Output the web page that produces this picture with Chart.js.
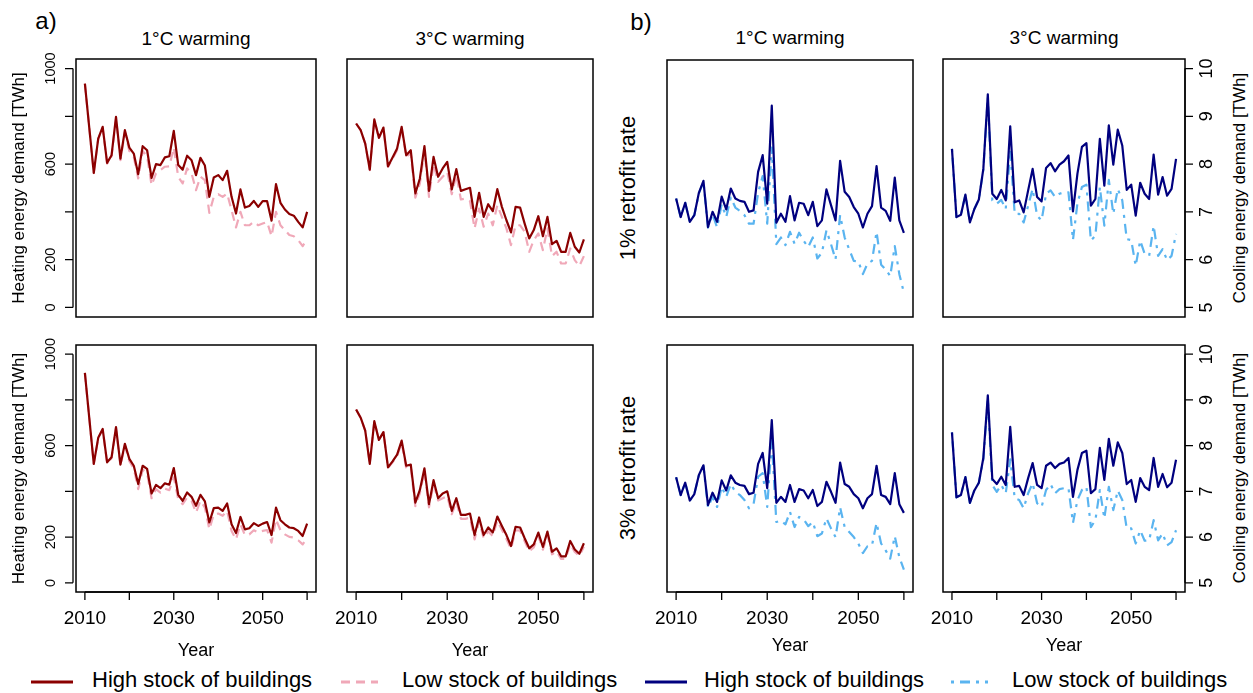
<!DOCTYPE html>
<html>
<head>
<meta charset="utf-8">
<script src="https://cdn.jsdelivr.net/npm/chart.js@4.4.1/dist/chart.umd.min.js"></script>
<style>
  body { margin: 0; background: #fff; }
  #page { position: relative; width: 1253px; height: 693px; overflow: hidden; background: #fff;
          font-family: "Liberation Sans", Arial, Helvetica, sans-serif; color: #000; }
  #page canvas { position: absolute; }
  .lbl { position: absolute; white-space: nowrap; transform: translate(-50%, -50%); line-height: 1; }
  .rot { transform: translate(-50%, -50%) rotate(-90deg); }
  .leg { position: absolute; white-space: nowrap; font-size: 22px; line-height: 1; transform: translateY(-50%); }
  svg.key { position: absolute; overflow: visible; }
</style>
</head>
<body>
<div id="page">
  <div class="lbl" style="left:46px;top:21px;font-size:24px">a)</div>
  <div class="lbl" style="left:641px;top:22px;font-size:24px">b)</div>

  <div class="lbl" style="left:196px;top:38px;font-size:19px">1°C warming</div>
  <div class="lbl" style="left:470px;top:38px;font-size:19px">3°C warming</div>
  <div class="lbl" style="left:790px;top:37px;font-size:19px">1°C warming</div>
  <div class="lbl" style="left:1064px;top:37px;font-size:19px">3°C warming</div>

  <div class="lbl rot" style="left:628px;top:188px;font-size:22px">1% retrofit rate</div>
  <div class="lbl rot" style="left:628px;top:468px;font-size:22px">3% retrofit rate</div>

  <div class="lbl rot" style="left:1239px;top:188px;font-size:17px">Cooling energy demand [TWh]</div>
  <div class="lbl rot" style="left:1239px;top:468px;font-size:17px">Cooling energy demand [TWh]</div>

  <!-- leyenda -->
  <svg class="key" style="left:0;top:0" width="1253" height="693">
    <line x1="31" y1="682" x2="73" y2="682" stroke="#8B0000" stroke-width="3"/>
    <line x1="341" y1="682" x2="378" y2="682" stroke="#F0A8B8" stroke-width="3" stroke-dasharray="9,6"/>
    <line x1="645" y1="682" x2="687" y2="682" stroke="#00007F" stroke-width="3"/>
    <line x1="951" y1="682" x2="988" y2="682" stroke="#5AB4F0" stroke-width="3" stroke-dasharray="3,6,10,6"/>
  </svg>
  <div class="leg" style="left:92px;top:680px">High stock of buildings</div>
  <div class="leg" style="left:402px;top:680px">Low stock of buildings</div>
  <div class="leg" style="left:704px;top:680px">High stock of buildings</div>
  <div class="leg" style="left:1012px;top:680px">Low stock of buildings</div>
</div>

<script>
// DATOS
var years = [];
for (var y = 2010; y <= 2060; y++) years.push(y);

var yearTicks = [2010, 2020, 2030, 2040, 2050, 2060];
var yearLabelled = [2010, 2030, 2050];
var heatTicks = [0, 200, 400, 600, 800, 1000];
var heatLabelled = [0, 200, 600, 1000];
var coolTicks = [5, 6, 7, 8, 9, 10];

// calefaccion, 1°C, 1% renovacion
var heatW1R1High = [937, 750, 563, 707, 756, 605, 637, 798, 623, 742,
  669, 644, 558, 675, 658, 542, 600, 596, 628, 633,
  739, 596, 577, 635, 616, 554, 626, 594, 463, 544,
  554, 533, 572, 463, 393, 494, 418, 425, 446, 421,
  445, 445, 363, 516, 438, 410, 391, 384, 358, 335, 400];
var heatW1R1Low = [937, 750, 562, 705, 752, 602, 633, 790, 617, 733,
  655, 630, 540, 655, 632, 512, 561, 575, 589, 591,
  669, 547, 519, 582, 561, 491, 547, 533, 396, 463,
  474, 463, 477, 407, 335, 400, 344, 344, 358, 344,
  351, 358, 298, 400, 344, 324, 303, 298, 282, 257, 285];
// calefaccion, 3°C, 1% renovacion
var heatW3R1High = [770, 742, 686, 577, 787, 710, 753, 591, 628, 665,
  756, 637, 658, 477, 540, 675, 488, 630, 547, 582,
  609, 494, 579, 488, 495, 501, 379, 480, 379, 432,
  403, 495, 421, 365, 314, 421, 418, 351, 289, 324,
  382, 298, 379, 265, 279, 233, 233, 312, 254, 230, 285];
var heatW3R1Low = [770, 742, 686, 575, 785, 707, 750, 588, 622, 658,
  748, 630, 645, 460, 519, 658, 463, 600, 526, 547,
  568, 474, 554, 452, 456, 445, 331, 414, 338, 393,
  344, 428, 379, 331, 261, 344, 344, 317, 233, 282,
  310, 240, 331, 215, 233, 184, 184, 247, 198, 173, 215];
// calefaccion, 1°C, 3% renovacion
var heatW1R3High = [918, 718, 520, 634, 673, 527, 549, 681, 517, 608,
  542, 512, 432, 512, 498, 391, 428, 414, 435, 429,
  502, 385, 359, 395, 376, 337, 385, 356, 264, 327,
  329, 315, 347, 256, 218, 288, 234, 239, 261, 249,
  259, 266, 209, 329, 274, 256, 242, 239, 227, 205, 259];
var heatW1R3Low = [918, 718, 520, 632, 670, 524, 545, 676, 512, 600,
  532, 500, 410, 495, 480, 370, 410, 395, 412, 405,
  461, 366, 344, 373, 359, 307, 359, 329, 234, 300,
  303, 293, 315, 227, 190, 256, 209, 212, 230, 220,
  227, 231, 176, 278, 230, 212, 201, 198, 186, 168, 195];
// calefaccion, 3°C, 3% renovacion
var heatW3R3High = [758, 722, 666, 520, 707, 625, 659, 505, 531, 561,
  622, 512, 517, 351, 406, 501, 344, 449, 370, 391,
  400, 315, 370, 297, 297, 303, 209, 286, 209, 242,
  220, 290, 249, 209, 161, 245, 242, 195, 151, 168,
  220, 157, 224, 136, 151, 116, 116, 183, 146, 127, 173];
var heatW3R3Low = [758, 722, 666, 520, 707, 625, 659, 502, 527, 555,
  612, 500, 505, 335, 392, 488, 330, 432, 360, 370,
  380, 300, 355, 280, 280, 285, 190, 270, 195, 225,
  205, 272, 232, 192, 148, 230, 228, 182, 138, 155,
  205, 145, 210, 125, 138, 105, 105, 170, 135, 118, 158];

// refrigeracion, 1°C, 1% renovacion
var coolW1R1High = [7.29, 6.90, 7.20, 6.80, 6.94, 7.41, 7.66, 6.69, 7.01, 6.80,
  7.33, 7.06, 7.50, 7.29, 7.24, 7.22, 7.01, 7.04, 7.85, 8.20,
  7.18, 9.24, 6.78, 6.97, 6.80, 7.34, 6.83, 7.20, 7.18, 6.94,
  7.22, 6.71, 6.83, 7.48, 7.15, 6.83, 8.08, 7.43, 7.32, 7.11,
  6.97, 6.68, 6.97, 7.13, 7.97, 7.10, 7.03, 6.82, 7.73, 6.83, 6.57];
var coolW1R1Low = [7.29, 6.90, 7.20, 6.80, 6.94, 7.40, 7.64, 6.68, 6.96, 6.68,
  7.17, 6.90, 7.31, 7.10, 7.03, 6.94, 6.76, 6.76, 7.41, 7.76,
  6.76, 8.36, 6.33, 6.47, 6.31, 6.59, 6.34, 6.57, 6.40, 6.27,
  6.47, 6.03, 6.15, 6.62, 6.33, 6.01, 6.94, 6.47, 6.22, 5.98,
  5.97, 5.70, 5.92, 5.98, 6.59, 5.90, 5.80, 5.66, 6.29, 5.70, 5.31];
// refrigeracion, 3°C, 1% renovacion
var coolW3R1High = [8.32, 6.89, 6.94, 7.36, 6.78, 7.06, 7.26, 7.90, 9.46, 7.38,
  7.27, 7.46, 7.24, 8.79, 7.20, 7.24, 6.99, 7.45, 7.90, 7.31,
  7.22, 7.92, 8.02, 7.85, 7.99, 8.06, 8.18, 7.01, 7.80, 8.36,
  8.44, 7.13, 7.27, 8.53, 7.55, 8.81, 7.99, 8.72, 8.39, 7.46,
  7.57, 6.92, 7.61, 7.38, 7.27, 8.20, 7.36, 7.73, 7.34, 7.48, 8.11];
var coolW3R1Low = [8.32, 6.89, 6.94, 7.36, 6.78, 7.06, 7.26, 7.88, 9.40, 7.24,
  7.17, 7.25, 7.06, 8.29, 6.96, 6.96, 6.78, 7.13, 7.48, 6.92,
  6.82, 7.38, 7.45, 7.31, 7.38, 7.41, 7.41, 6.41, 7.18, 7.52,
  7.57, 6.40, 6.50, 7.52, 6.71, 7.67, 6.96, 7.48, 7.24, 6.43,
  6.41, 5.87, 6.40, 6.12, 6.08, 6.71, 6.08, 6.22, 5.99, 6.08, 6.54];
// refrigeracion, 1°C, 3% renovacion
var coolW1R3High = [7.31, 6.92, 7.19, 6.80, 6.94, 7.36, 7.57, 6.70, 6.97, 6.77,
  7.24, 7.02, 7.35, 7.19, 7.14, 7.12, 6.94, 6.97, 7.60, 7.84,
  7.07, 8.56, 6.75, 6.88, 6.77, 7.14, 6.77, 7.05, 7.02, 6.85,
  7.03, 6.68, 6.77, 7.21, 6.99, 6.75, 7.63, 7.16, 7.10, 6.94,
  6.85, 6.63, 6.85, 6.94, 7.56, 6.92, 6.88, 6.72, 7.40, 6.72, 6.53];
var coolW1R3Low = [7.31, 6.92, 7.19, 6.80, 6.94, 7.35, 7.55, 6.65, 6.88, 6.66,
  7.10, 6.88, 7.16, 6.99, 6.92, 6.81, 6.63, 6.72, 7.32, 7.40,
  6.66, 8.13, 6.33, 6.36, 6.28, 6.55, 6.22, 6.44, 6.39, 6.24,
  6.33, 6.02, 6.08, 6.41, 6.19, 6.00, 6.65, 6.22, 6.11, 6.00,
  5.86, 5.65, 5.80, 5.82, 6.31, 5.86, 5.71, 5.53, 6.02, 5.56, 5.29];
// refrigeracion, 3°C, 3% renovacion
var coolW3R3High = [8.29, 6.87, 6.92, 7.31, 6.75, 7.02, 7.19, 7.73, 9.10, 7.27,
  7.16, 7.32, 7.14, 8.41, 7.10, 7.12, 6.92, 7.29, 7.62, 7.14,
  7.07, 7.56, 7.63, 7.51, 7.60, 7.63, 7.73, 6.88, 7.47, 7.84,
  7.89, 6.96, 7.05, 7.95, 7.25, 8.15, 7.56, 8.07, 7.84, 7.16,
  7.25, 6.77, 7.29, 7.10, 7.03, 7.73, 7.10, 7.38, 7.09, 7.19, 7.69];
var coolW3R3Low = [8.29, 6.87, 6.92, 7.31, 6.75, 7.02, 7.19, 7.70, 9.02, 7.14,
  6.99, 7.14, 6.96, 7.70, 6.85, 6.81, 6.63, 6.96, 7.18, 6.74,
  6.66, 7.03, 7.16, 6.96, 7.05, 7.07, 7.07, 6.31, 6.81, 7.03,
  7.10, 6.22, 6.37, 7.03, 6.41, 7.10, 6.59, 7.02, 6.81, 6.19,
  6.19, 5.86, 6.15, 5.92, 5.93, 6.37, 5.93, 6.08, 5.82, 5.89, 6.15];

// Colores
var colHeatHigh = '#8B0000', colHeatLow = '#F0A8B8';
var colCoolHigh = '#00007F', colCoolLow = '#5AB4F0';

Chart.defaults.font.family = '"Liberation Sans", Arial, Helvetica, sans-serif';
Chart.defaults.color = '#000';

// Marco y ejes al estilo de R
var rFrame = {
  id: 'rFrame',
  afterDatasetsDraw: function(chart) {
    var ctx = chart.ctx, a = chart.chartArea;
    ctx.save();
    ctx.strokeStyle = '#000';
    ctx.lineWidth = 1.5;
    ctx.strokeRect(a.left, a.top, a.right - a.left, a.bottom - a.top);
    ctx.lineWidth = 1.3;
    Object.keys(chart.scales).forEach(function(k) {
      var s = chart.scales[k];
      if (s.options.display !== true) return;
      var px = s.ticks.map(function(t) { return s.getPixelForValue(t.value); });
      ctx.beginPath();
      if (s.position === 'left') {
        var x = a.left - 3;
        ctx.moveTo(x, px[0]); ctx.lineTo(x, px[px.length - 1]);
        px.forEach(function(p) { ctx.moveTo(x, p); ctx.lineTo(x - 8, p); });
      } else if (s.position === 'right') {
        var xr = a.right;
        ctx.moveTo(xr, px[0]); ctx.lineTo(xr, px[px.length - 1]);
        px.forEach(function(p) { ctx.moveTo(xr, p); ctx.lineTo(xr + 8, p); });
      } else {
        var yb = a.bottom;
        ctx.moveTo(px[0], yb); ctx.lineTo(px[px.length - 1], yb);
        px.forEach(function(p) { ctx.moveTo(p, yb); ctx.lineTo(p, yb + 8); });
      }
      ctx.stroke();
    });
    ctx.restore();
  }
};

// Paneles: caja del grafico en pixeles de la pagina [izq, arriba, der, abajo]
var panels = [
  { box: [76, 59, 316, 317],   kind: 'heat', high: heatW1R1High, low: heatW1R1Low, yAxis: true,  xAxis: false },
  { box: [347, 59, 593, 317],  kind: 'heat', high: heatW3R1High, low: heatW3R1Low, yAxis: false, xAxis: false },
  { box: [76, 345, 316, 592],  kind: 'heat', high: heatW1R3High, low: heatW1R3Low, yAxis: true,  xAxis: true },
  { box: [347, 345, 593, 592], kind: 'heat', high: heatW3R3High, low: heatW3R3Low, yAxis: false, xAxis: true },
  { box: [667, 60, 913, 317],  kind: 'cool', high: coolW1R1High, low: coolW1R1Low, yAxis: false, xAxis: false },
  { box: [943, 59, 1185, 317], kind: 'cool', high: coolW3R1High, low: coolW3R1Low, yAxis: true,  xAxis: false },
  { box: [667, 345, 913, 592], kind: 'cool', high: coolW1R3High, low: coolW1R3Low, yAxis: false, xAxis: true },
  { box: [943, 345, 1185, 592], kind: 'cool', high: coolW3R3High, low: coolW3R3Low, yAxis: true, xAxis: true }
];

var M = { left: 80, right: 60, top: 30, bottom: 80 };

function toPoints(values) {
  return values.map(function(v, i) { return { x: years[i], y: v }; });
}

function makePanel(p) {
  var L = p.box[0], T = p.box[1], R = p.box[2], B = p.box[3];
  var isHeat = p.kind === 'heat';
  var cv = document.createElement('canvas');
  cv.width = (R - L) + M.left + M.right;
  cv.height = (B - T) + M.top + M.bottom;
  cv.style.left = (L - M.left) + 'px';
  cv.style.top = (T - M.top) + 'px';
  document.getElementById('page').appendChild(cv);

  var yW = p.yAxis ? (isHeat ? 70 : 45) : 0;
  var xH = p.xAxis ? 70 : 0;
  var pad = {
    left: M.left - (p.yAxis && isHeat ? yW : 0),
    right: M.right - (p.yAxis && !isHeat ? yW : 0),
    top: M.top,
    bottom: M.bottom - xH
  };

  var yScale = isHeat ? {
    type: 'linear', position: 'left', min: -40, max: 1040, display: p.yAxis,
    afterBuildTicks: function(s) { s.ticks = heatTicks.map(function(v) { return { value: v }; }); },
    afterFit: function(s) { s.width = yW; },
    grid: { display: false, drawTicks: false }, border: { display: false },
    ticks: { font: { size: 14.5 }, minRotation: 90, maxRotation: 90, crossAlign: 'center', padding: 9,
      autoSkip: false,
      callback: function(v) { return heatLabelled.indexOf(v) >= 0 ? String(v) : ''; } },
    title: { display: true, text: 'Heating energy demand [TWh]', font: { size: 17 }, padding: { top: 3, bottom: 0 } }
  } : {
    type: 'linear', position: 'right', min: 4.8, max: 10.2, display: p.yAxis,
    afterBuildTicks: function(s) { s.ticks = coolTicks.map(function(v) { return { value: v }; }); },
    afterFit: function(s) { s.width = yW; },
    grid: { display: false, drawTicks: false }, border: { display: false },
    ticks: { font: { size: 18 }, minRotation: 90, maxRotation: 90, crossAlign: 'center', padding: 12,
      autoSkip: false,
      callback: function(v) { return String(v); } }
  };

  var xScale = {
    type: 'linear', min: 2008, max: 2062, display: p.xAxis,
    afterBuildTicks: function(s) { s.ticks = yearTicks.map(function(v) { return { value: v }; }); },
    afterFit: function(s) { s.height = xH; },
    grid: { display: false, drawTicks: false }, border: { display: false },
    ticks: { font: { size: 19 }, padding: 15, maxRotation: 0, autoSkip: false,
      callback: function(v) { return yearLabelled.indexOf(v) >= 0 ? String(v) : ''; } },
    title: { display: true, text: 'Year', font: { size: 18 }, padding: { top: 0, bottom: isHeat ? 0 : 5 } }
  };

  return new Chart(cv.getContext('2d'), {
    type: 'line',
    data: {
      datasets: [{
        label: 'High stock of buildings',
        data: toPoints(p.high),
        borderColor: isHeat ? colHeatHigh : colCoolHigh,
        borderWidth: 2.2
      }, {
        label: 'Low stock of buildings',
        data: toPoints(p.low),
        borderColor: isHeat ? colHeatLow : colCoolLow,
        borderWidth: 2.2,
        borderDash: isHeat ? [9, 6] : [3, 6, 10, 6]
      }]
    },
    options: {
      responsive: false,
      animation: false,
      devicePixelRatio: 1,
      layout: { padding: pad },
      elements: {
        point: { radius: 0, hoverRadius: 0 },
        line: { tension: 0, borderJoinStyle: 'round', fill: false }
      },
      scales: { x: xScale, y: yScale },
      plugins: { legend: { display: false }, tooltip: { enabled: false } }
    },
    plugins: [rFrame]
  });
}

panels.forEach(makePanel);
</script>
</body>
</html>
